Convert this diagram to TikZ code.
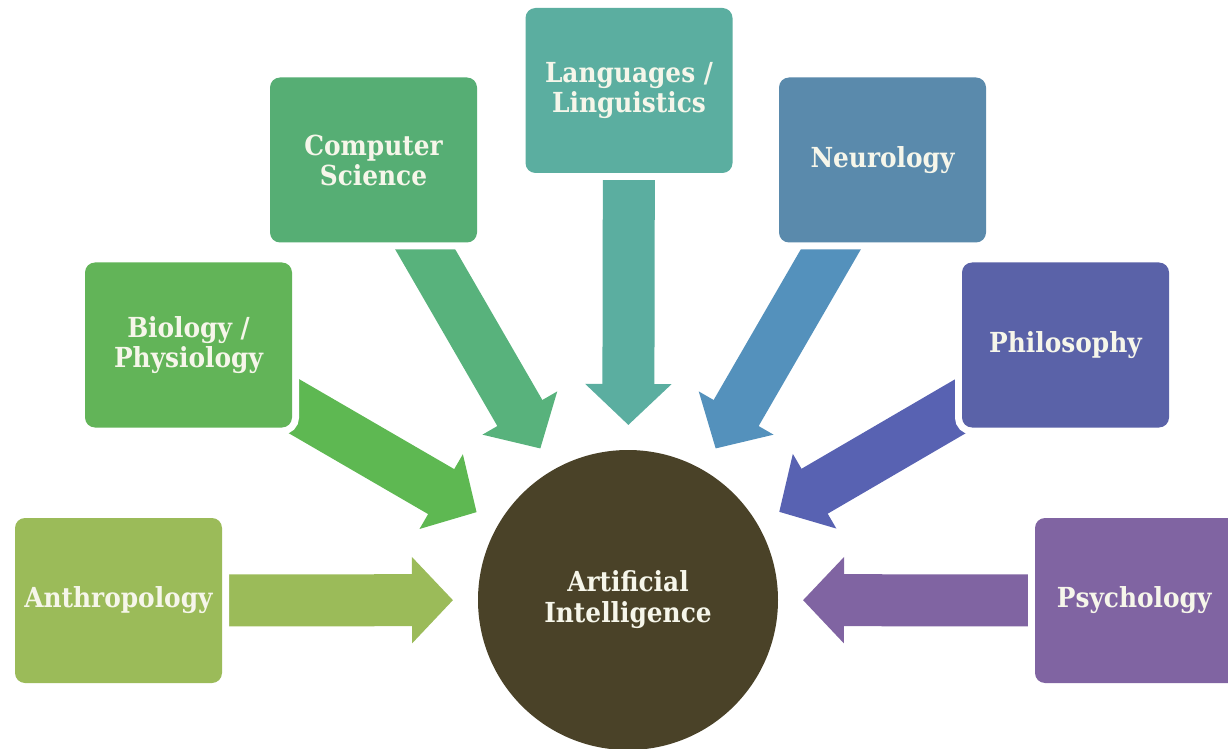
\documentclass[tikz,border=0pt]{standalone}
\usepackage{fontspec}
\setmainfont{DejaVu Serif Condensed}
\usepackage{xcolor}
\usetikzlibrary{arrows.meta,backgrounds}

% box and arrow colours, one pair per field
\definecolor{boxanth}{RGB}{155,187,89}
\definecolor{arranth}{RGB}{155,187,89}
\definecolor{boxbio}{RGB}{98,180,88}
\definecolor{arrbio}{RGB}{94,184,82}
\definecolor{boxcs}{RGB}{86,174,116}
\definecolor{arrcs}{RGB}{88,178,124}
\definecolor{boxlang}{RGB}{91,174,160}
\definecolor{arrlang}{RGB}{91,174,160}
\definecolor{boxneuro}{RGB}{90,138,172}
\definecolor{arrneuro}{RGB}{84,145,188}
\definecolor{boxphilo}{RGB}{90,98,168}
\definecolor{arrphilo}{RGB}{88,98,178}
\definecolor{boxpsych}{RGB}{128,100,162}
\definecolor{arrpsych}{RGB}{128,100,162}
\definecolor{aicol}{RGB}{74,66,40}
\definecolor{labelcol}{RGB}{246,246,234}

\begin{document}
\begin{tikzpicture}[x=0.5pt,y=-0.5pt,
  field/.style={rectangle, rounded corners=5pt, minimum width=103.5pt,
    minimum height=82.5pt, inner sep=2pt, text=labelcol, align=center,
    font=\bfseries\fontsize{13.8}{15}\selectfont,
    preaction={draw=white, line width=7pt}},
  bigarrow/.style={line width=26pt, -{Triangle[length=20.5pt,width=42pt]},
    shorten >=12.5pt}]

  \clip (0,0) rectangle (1228,749);

  % centre: the discipline itself
  \node[circle, fill=aicol, minimum size=150pt, inner sep=0pt, outer sep=0pt,
    text=labelcol, align=center, font=\bfseries\fontsize{13.8}{15.5}\selectfont]
    (ai) at (628,600) {Artificial\\Intelligence};

  % the contributing fields: name / x / y / label
  \foreach \name/\px/\py/\txt in {
    anth/118.5/600.5/Anthropology,
    bio/188.5/345/{Biology /\\Physiology},
    cs/373.5/160/{Computer\\Science},
    lang/629/90.5/{Languages /\\Linguistics},
    neuro/882.5/160/Neurology,
    philo/1065.5/345/Philosophy,
    psych/1138.5/600.5/Psychology
  }{
    \node[field, fill=box\name] (\name) at (\px,\py) {\txt};
  }

  % block arrows from each field into the centre, kept behind the boxes
  \begin{scope}[on background layer]
    \foreach \name in {anth,bio,cs,lang,neuro,philo,psych}{
      \draw[bigarrow, color=arr\name] (\name.center) -- (ai);
    }
  \end{scope}

\end{tikzpicture}
\end{document}
